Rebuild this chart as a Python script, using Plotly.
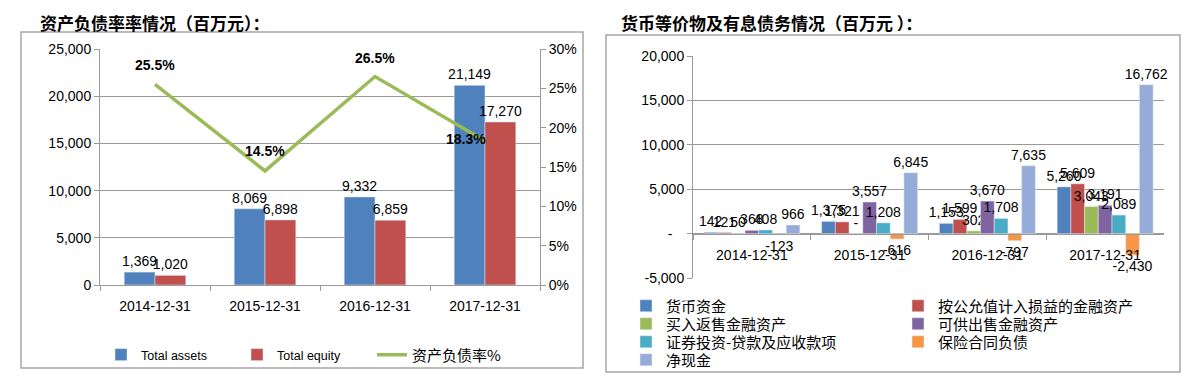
import plotly.graph_objects as go

# ---------------- data ----------------
dates = ["2014-12-31", "2015-12-31", "2016-12-31", "2017-12-31"]

total_assets = [1369, 8069, 9332, 21149]
total_equity = [1020, 6898, 6859, 17270]
debt_ratio = [0.255, 0.145, 0.265, 0.183]

cash_funds = [142, 1375, 1153, 5260]
fvtpl_assets = [121, 1321, 1599, 5609]
resale_assets = [50, 0, 302, 3043]
afs_assets = [368, 3557, 3670, 3191]
loans_receivables = [408, 1208, 1708, 2089]
insurance_liab = [-123, -616, -797, -2430]
net_cash = [966, 6845, 7635, 16762]

right_names = ["货币资金", "按公允值计入损益的金融资产", "买入返售金融资产", "可供出售金融资产",
               "证券投资-贷款及应收款项", "保险合同负债", "净现金"]
right_series = [cash_funds, fvtpl_assets, resale_assets, afs_assets,
                loans_receivables, insurance_liab, net_cash]

# ---------------- geometry helpers ----------------
# page body has an 8px margin; figure sized to fit the window without scrollbars
OFF = 8
FW, FH = 1195 - 2 * OFF, 385 - 2 * OFF
def px(x):
    return (x - OFF) / FW
def py(y):
    return 1 - (y - OFF) / FH

LAT = "Liberation Sans, Noto Sans CJK SC, sans-serif"
CJK = "Noto Sans CJK SC, sans-serif"
GRID = "#9A9A9A"

def fmt(v):
    return "-" if v == 0 else f"{v:,}"

fig = go.Figure()
layout_legends = {}

# ---------------- left chart ----------------
left_leg_x = [101, 237, 372]
left_leg_font = [dict(size=12.5, family=LAT), dict(size=12.5, family=LAT), dict(size=15, family=CJK)]
for k in range(3):
    layout_legends[f"legend{k + 1 if k else ''}"] = dict(
        orientation="h", x=px(left_leg_x[k]), y=py(355), xanchor="left", yanchor="middle",
        font=left_leg_font[k], bgcolor="rgba(0,0,0,0)", itemwidth=30)

lw = 0.28
fig.add_trace(go.Bar(
    x=dates, y=total_assets, name="Total assets", marker_color="#4F81BD",
    width=lw, offset=-lw, text=[fmt(v) for v in total_assets], textposition="outside",
    textfont=dict(size=14, color="black", family=LAT), constraintext="none", cliponaxis=False,
    xaxis="x", yaxis="y", legend="legend"))
fig.add_trace(go.Bar(
    x=dates, y=total_equity, name="Total equity", marker_color="#C0504D",
    width=lw, offset=0, text=[fmt(v) for v in total_equity], textposition="outside",
    textfont=dict(size=14, color="black", family=LAT), constraintext="none", cliponaxis=False,
    xaxis="x", yaxis="y", legend="legend2"))
fig.add_trace(go.Scatter(
    x=dates, y=debt_ratio, name="资产负债率%", mode="lines",
    line=dict(color="#9BBB59", width=3.5), cliponaxis=False,
    xaxis="x", yaxis="y2", legend="legend3"))

# percentage labels of the line, anchored to the data points
label_shift = [(0, 19), (0, 20), (0, 19), (-19, 2)]
for d, v, (dx, dy) in zip(dates, debt_ratio, label_shift):
    fig.add_annotation(x=d, y=v, xref="x", yref="y2", text=f"<b>{v*100:.1f}%</b>",
                       showarrow=False, xshift=dx, yshift=dy,
                       font=dict(size=14, color="black", family=LAT))

# ---------------- right chart ----------------
right_colors = ["#4F81BD", "#C0504D", "#9BBB59", "#8064A2", "#4BACC6", "#F79646", "#95ABD8"]
group_w = 0.815
bw = group_w / len(right_series)
col_x = [626, 898]
row_y = [306, 324, 342, 360]
for i, (nm, vals, col) in enumerate(zip(right_names, right_series, right_colors)):
    lname = f"legend{4 + i}"
    layout_legends[lname] = dict(
        orientation="v", x=px(col_x[i % 2]), y=py(row_y[i // 2]), xanchor="left", yanchor="middle",
        font=dict(size=15, family=CJK), bgcolor="rgba(0,0,0,0)", itemwidth=30)
    fig.add_trace(go.Bar(
        x=dates, y=vals, name=nm, marker_color=col,
        width=bw, offset=-group_w / 2 + i * bw,
        text=[fmt(v) for v in vals], textposition="outside",
        textfont=dict(size=14, color="black", family=LAT), constraintext="none", cliponaxis=False,
        xaxis="x3", yaxis="y3", legend=lname))

r_range = [-5000, 20000]
r_ydom = [py(278), py(56)]
zero_pos = r_ydom[0] + (0 - r_range[0]) / (r_range[1] - r_range[0]) * (r_ydom[1] - r_ydom[0])
r_ticks = list(range(-5000, 20001, 5000))
r_ticktext = ["-&nbsp;&nbsp;&nbsp;" if t == 0 else f"{t:,}" for t in r_ticks]

axis_font = dict(size=14, color="black", family=LAT)

fig.update_layout(
    width=FW, height=FH, margin=dict(l=0, r=0, t=0, b=0, autoexpand=False),
    paper_bgcolor="white", plot_bgcolor="white",
    barmode="overlay",
    font=dict(family=LAT, size=13, color="black"),
    xaxis=dict(domain=[px(100), px(540)], anchor="y", type="category",
               showline=True, linecolor=GRID, linewidth=1,
               ticks="outside", tickson="boundaries", ticklen=5, tickcolor=GRID,
               showgrid=False, tickfont=axis_font, ticklabelstandoff=8),
    yaxis=dict(domain=[py(285), py(49)], anchor="x", range=[0, 25000], dtick=5000,
               tickformat=",", showline=True, linecolor=GRID, ticks="outside", ticklen=5,
               tickcolor=GRID, showgrid=True, gridcolor=GRID, gridwidth=1, zeroline=False,
               tickfont=axis_font),
    yaxis2=dict(overlaying="y", side="right", anchor="x", range=[0, 0.3], dtick=0.05,
                tickformat=".0%", showline=True, linecolor=GRID, ticks="outside", ticklen=5,
                tickcolor=GRID, showgrid=False, zeroline=False, tickfont=axis_font),
    xaxis3=dict(domain=[px(693), px(1164)], anchor="free", position=zero_pos, type="category",
                showline=True, linecolor=GRID, linewidth=1,
                ticks="outside", tickson="boundaries", ticklen=5, tickcolor=GRID,
                showgrid=False, tickfont=axis_font, ticklabelstandoff=9),
    yaxis3=dict(domain=r_ydom, anchor="x3", range=r_range, tickvals=r_ticks, ticktext=r_ticktext,
                showline=True, linecolor=GRID, ticks="outside", ticklen=5, tickcolor=GRID,
                showgrid=True, gridcolor=GRID, gridwidth=1, zeroline=False, tickfont=axis_font),
    showlegend=True,
    **layout_legends,
)

# panel borders
fig.add_shape(type="rect", xref="paper", yref="paper", x0=px(21), x1=px(583), y0=py(368), y1=py(32),
              line=dict(color="#A6A6A6", width=1.5), layer="below")
fig.add_shape(type="rect", xref="paper", yref="paper", x0=px(606), x1=px(1180), y0=py(372), y1=py(35),
              line=dict(color="#A6A6A6", width=1.5), layer="below")

# titles
fig.add_annotation(text="<b>资产负债率率情况（百万元）：</b>", xref="paper", yref="paper",
                   x=px(38), y=1.0, xanchor="left", yanchor="top", showarrow=False,
                   font=dict(size=17, family=CJK, color="black"))
fig.add_annotation(text="<b>货币等价物及有息债务情况（百万元 ）：</b>", xref="paper", yref="paper",
                   x=px(619), y=1.0, xanchor="left", yanchor="top", showarrow=False,
                   font=dict(size=17, family=CJK, color="black"))

fig.write_html("out.html")
